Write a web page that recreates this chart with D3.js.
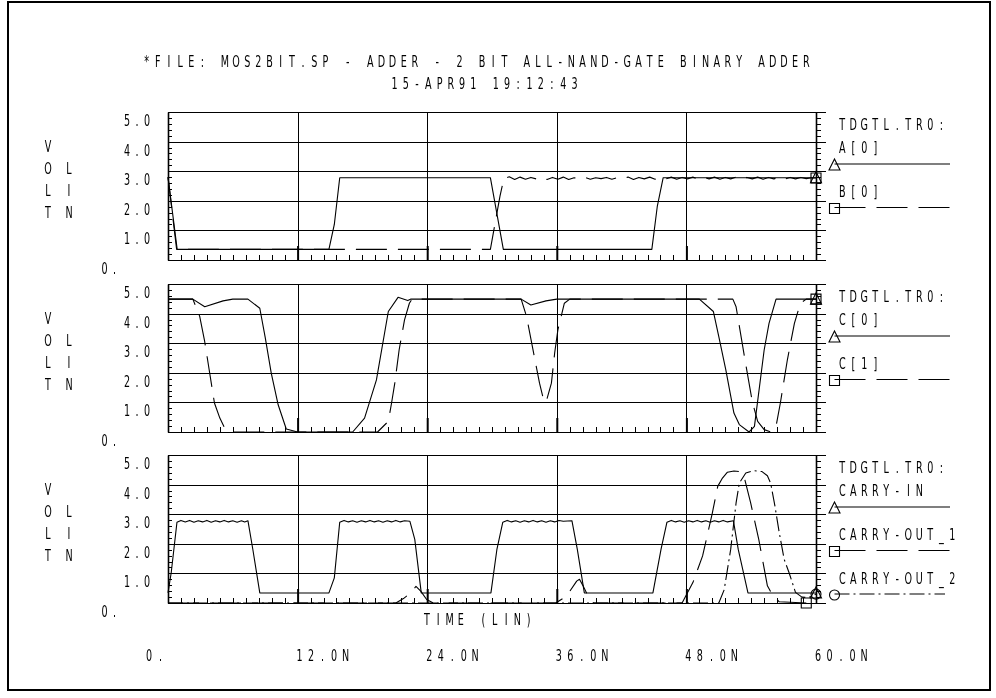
<!DOCTYPE html>
<html>
<head>
<meta charset="utf-8">
<script src="https://cdn.jsdelivr.net/npm/d3@7"></script>
<style>
  html, body { margin: 0; padding: 0; background: #fff; }
  svg { display: block; will-change: transform; }
  text { -webkit-font-smoothing: antialiased; }
</style>
</head>
<body>
<svg id="chart" width="996" height="698"></svg>
<script>
// ---- text content ----
const titleLines = ["*FILE: MOS2BIT.SP - ADDER - 2 BIT ALL-NAND-GATE BINARY ADDER", "15-APR91 19:12:43"];
const xTickValues = [0, 12, 24, 36, 48, 60];
const xTickLabels = ["0.", "12.0N", "24.0N", "36.0N", "48.0N", "60.0N"];
const yTickValues = [5, 4, 3, 2, 1, 0];
const yTickLabels = ["5.0", "4.0", "3.0", "2.0", "1.0", "0."];
const xAxisTitle = "TIME (LIN)";
const yAxisLetters = [["V", ""], ["O", "L"], ["L", "I"], ["T", "N"]];
const legendHeader = "TDGTL.TR0:";
const panelNames = [["A[0]", "B[0]"], ["C[0]", "C[1]"], ["CARRY-IN", "CARRY-OUT_1", "CARRY-OUT_2"]];

// ---- waveforms: [time (ns), volts] ----
const A0 = [[0,2.8],[0.85,0.36],[14.9,0.36],[15.4,1.2],[15.9,2.78],[29.85,2.78],[31.05,0.36],
  [44.8,0.36],[45.3,1.8],[45.85,2.78],[60,2.78]];
const B0 = [[0,2.8],[0.8,0.36],[29.85,0.36],[30.74,2.16],[31.1,2.75],
  [31.6,2.81],[32.1,2.72],[32.6,2.8],[33.1,2.73],[33.6,2.79],[34.1,2.74],[34.6,2.8],[35.1,2.72],
  [35.6,2.79],[36.1,2.73],[36.6,2.8],[37.1,2.72],[37.6,2.78],[38.1,2.74],[38.6,2.79],[39.1,2.73],
  [39.6,2.78],[40.1,2.75],[40.6,2.79],[41.1,2.73],[41.6,2.78],[42.1,2.74],[42.6,2.8],[43.1,2.72],
  [43.6,2.79],[44.1,2.74],[44.6,2.8],[45.1,2.73],[45.6,2.79],[46.1,2.74],[46.6,2.8],[47.1,2.73],
  [47.6,2.79],[48.1,2.74],[48.6,2.8],[49.1,2.73],[49.6,2.79],[50.1,2.74],[50.6,2.8],[51.1,2.73],
  [51.6,2.79],[52.1,2.74],[52.6,2.8],[53.1,2.73],[53.6,2.79],[54.1,2.74],[54.6,2.8],[55.1,2.73],
  [55.6,2.79],[56.1,2.74],[56.6,2.8],[57.1,2.73],[57.6,2.79],[58.1,2.74],[58.6,2.79],[59.1,2.75],
  [59.6,2.78],[60,2.77]];

const C0 = [[0,4.49],[2.3,4.49],[3.4,4.23],[5.1,4.43],[6.0,4.49],[7.4,4.49],[8.5,4.18],[9.0,3.2],
  [9.56,1.99],[10.2,0.92],[10.95,0.1],[12.0,0],[17.1,0],[18.2,0.47],[19.3,1.76],[20.4,4.07],
  [21.3,4.55],[22.2,4.44],[22.5,4.49],[32.7,4.49],[33.6,4.29],[35.0,4.43],[36.0,4.49],[49.2,4.49],
  [50.5,4.07],[51.0,3.22],[51.65,2.1],[52.4,0.64],[52.9,0.25],[53.8,0],[54.3,0.19],[55.2,2.77],
  [55.65,3.67],[56.3,4.49],[60,4.49]];
const C1 = [[0,4.49],[2.3,4.49],[2.94,3.9],[3.4,3.05],[4.3,0.98],[4.8,0.47],[5.25,0.13],[6.0,0],
  [19.4,0],[20.4,0.36],[20.7,0.98],[21.0,1.65],[21.4,2.77],[21.9,3.79],[22.35,4.35],[22.6,4.49],
  [32.7,4.49],[33.2,3.9],[34.1,2.21],[34.4,1.65],[34.7,1.2],[35.0,1.0],[35.5,1.65],[35.8,2.66],
  [36.1,3.45],[36.7,4.35],[37.2,4.49],[52.3,4.49],[52.6,4.23],[53.4,2.49],[54.1,1.03],[54.6,0.36],
  [55.2,0.08],[55.8,0],[56.3,0.19],[56.7,0.98],[57.35,2.44],[58.0,3.67],[58.55,4.35],[59.1,4.49],[60,4.49]];

const CARRY_IN = [[0,0.34],[0.3,1.03],[0.83,2.73],[1.2,2.79],[1.6,2.74],[2.0,2.79],[2.4,2.73],[2.8,2.78],
  [3.2,2.74],[3.6,2.79],[4.0,2.73],[4.4,2.78],[4.8,2.74],[5.2,2.79],[5.6,2.74],[6.0,2.78],[6.4,2.73],
  [6.8,2.78],[7.1,2.74],[7.4,2.78],[7.86,1.8],[8.5,0.34],
  [14.9,0.34],[15.4,0.85],[15.9,2.73],[16.3,2.79],[16.7,2.74],[17.1,2.78],[17.5,2.73],[17.9,2.78],
  [18.3,2.74],[18.7,2.79],[19.1,2.74],[19.5,2.78],[19.9,2.73],[20.3,2.78],[20.7,2.74],[21.1,2.79],
  [21.5,2.74],[21.9,2.78],[22.4,2.76],[22.85,2.15],[23.45,0.34],
  [29.9,0.34],[30.45,1.8],[31.0,2.73],[31.4,2.79],[31.8,2.74],[32.2,2.78],[32.6,2.73],[33.0,2.78],
  [33.4,2.74],[33.8,2.79],[34.2,2.74],[34.6,2.78],[35.0,2.73],[35.4,2.78],[35.8,2.74],[36.2,2.79],
  [36.6,2.76],[37.4,2.78],[37.9,1.81],[38.55,0.34],
  [44.9,0.34],[45.65,1.81],[46.2,2.73],[46.6,2.79],[47.0,2.74],[47.4,2.78],[47.8,2.73],[48.2,2.78],
  [48.6,2.74],[49.0,2.79],[49.4,2.74],[49.8,2.78],[50.2,2.73],[50.6,2.78],[51.0,2.74],[51.4,2.79],
  [51.8,2.74],[52.35,2.78],[52.8,1.81],[53.7,0.34],[60,0.34]];
const CARRY_OUT_1 = [[0,0],[21.1,0],[21.8,0.15],[22.4,0.32],[22.96,0.56],[23.4,0.4],[23.95,0.12],[24.56,0],
  [35.9,0],[36.9,0.23],[37.84,0.74],[38.1,0.8],[38.45,0.57],[38.9,0.23],[39.4,0],
  [47.6,0],[48.6,0.69],[49.5,1.59],[50.4,3.04],[50.9,3.94],[51.3,4.2],[51.8,4.42],[52.4,4.46],
  [52.9,4.44],[53.3,4.33],[53.95,3.38],[54.7,2.15],[55.5,0.58],[56.0,0.25],[56.6,0.04],[59.1,0]];
const CARRY_OUT_2 = [[0,0],[51.0,0],[51.5,0.45],[52.1,1.81],[52.6,3.38],[52.9,4.05],[53.5,4.39],
  [54.2,4.47],[55.0,4.44],[55.5,4.3],[55.8,4.05],[56.2,3.27],[56.6,2.37],[57.05,1.48],[57.5,1.03],
  [58.1,0.36],[58.7,0.2],[59.3,0.18],[60,0.3]];

const panelData = [[A0, B0], [C0, C1], [CARRY_IN, CARRY_OUT_1, CARRY_OUT_2]];

// ---- drawing ----
const svg = d3.select("#chart");
const FONT = "'DejaVu Sans', 'Liberation Sans', sans-serif";
const SX = 0.64;           // horizontal squeeze for the narrow plotter lettering
const INK = "#000";

// fixed-pitch lettering: every character centred on its own cell
function plotText(parent, str, x0, yc, adv, size = 15) {
  const xs = Array.from(str).map((c, i) => (i * adv / SX).toFixed(2)).join(" ");
  return parent.append("text")
    .attr("transform", `translate(${x0},${(yc + size * 0.365).toFixed(2)}) scale(${SX},1)`)
    .attr("x", xs)
    .attr("text-anchor", "middle")
    .attr("font-family", FONT)
    .attr("font-size", size)
    .attr("fill", INK)
    .style("white-space", "pre")
    .text(str);
}

// page frame
svg.append("rect")
  .attr("x", 8).attr("y", 2).attr("width", 982).attr("height", 688)
  .attr("fill", "none").attr("stroke", INK).attr("stroke-width", 2);

// titles
plotText(svg, titleLines[0], 146.6, 62, 11.18);
plotText(svg, titleLines[1], 394.6, 84, 11.24);

const x = d3.scaleLinear().domain([0, 60]).range([168, 816]);
const panelTops = [112, 284, 455];
const panelH = 148;
const gridExt = 10;
const dashStyles = ["none", "31,11", "15,4,2,4"];

const markerPaths = [
  "M0,-6L5.5,5L-5.5,5Z",                         // triangle
  "M-5,-5H5V5H-5Z",                              // square
  "M5,0A5,5 0 1,1 -5,0A5,5 0 1,1 5,0Z"           // circle
];

panelData.forEach((series, p) => {
  const top = panelTops[p], bottom = top + panelH;
  const y = d3.scaleLinear().domain([0, 5]).range([bottom, top]);
  const g = svg.append("g");

  // horizontal grid lines (run a little past the right axis)
  const hGrid = g.append("g").attr("transform", `translate(${x(0)},0)`)
    .call(d3.axisRight(y).tickValues(yTickValues).tickSize(x(60) + gridExt - x(0)).tickFormat(""));
  hGrid.select(".domain").remove();
  hGrid.selectAll("line").attr("stroke", INK).attr("shape-rendering", "crispEdges");
  hGrid.selectAll(".tick").filter(d => d === 0).select("line").attr("stroke-width", 1.6);

  // vertical grid lines
  const vGrid = g.append("g").attr("transform", `translate(0,${bottom})`)
    .call(d3.axisTop(x).tickValues([12, 24, 36, 48]).tickSize(panelH).tickFormat(""));
  vGrid.select(".domain").remove();
  vGrid.selectAll("line").attr("stroke", INK).attr("shape-rendering", "crispEdges");

  // heavier major ticks at the foot of each division
  const major = g.append("g").attr("transform", `translate(0,${bottom})`)
    .call(d3.axisTop(x).tickValues([12, 24, 36, 48]).tickSize(14).tickFormat(""));
  major.select(".domain").remove();
  major.selectAll("line").attr("stroke", INK).attr("stroke-width", 2);

  // minor time ticks along the bottom
  const minorX = g.append("g").attr("transform", `translate(0,${bottom})`)
    .call(d3.axisTop(x).tickValues(d3.range(0, 60.001, 1.2)).tickSize(5).tickFormat(""));
  minorX.select(".domain").remove();
  minorX.selectAll("line").attr("stroke", INK).attr("shape-rendering", "crispEdges");

  // left and right voltage axes with minor ticks
  const yMinor = d3.range(0, 5.001, 0.2);
  const leftAx = g.append("g").attr("transform", `translate(${x(0)},0)`)
    .call(d3.axisRight(y).tickValues(yMinor).tickSize(4).tickSizeOuter(0).tickFormat(""));
  leftAx.select(".domain").attr("stroke", INK).attr("stroke-width", 1.6);
  leftAx.selectAll("line").attr("stroke", INK).attr("shape-rendering", "crispEdges");
  const rightAx = g.append("g").attr("transform", `translate(${x(60)},0)`)
    .call(d3.axisRight(y).tickValues(yMinor).tickSize(5).tickSizeOuter(0).tickFormat(""));
  rightAx.select(".domain").attr("stroke", INK).attr("stroke-width", 1.6);
  rightAx.selectAll("line").attr("stroke", INK).attr("shape-rendering", "crispEdges");

  // voltage tick labels
  yTickValues.forEach((v, i) => {
    const lab = yTickLabels[i];
    const x0 = lab === "0." ? 104.5 : 127;
    plotText(g, lab, x0, y(v) + 8.5, 10);
  });

  // stacked axis caption
  yAxisLetters.forEach((pair, r) => {
    const yc = top + 35 + r * 21.8;
    plotText(g, pair[0], 48, yc, 10);
    if (pair[1]) plotText(g, pair[1], 69, yc, 10);
  });

  // waveforms
  const line = d3.line().x(d => x(d[0])).y(d => y(d[1]));
  series.forEach((data, s) => {
    g.append("path")
      .attr("d", line(data))
      .attr("fill", "none")
      .attr("stroke", INK)
      .attr("stroke-width", 1.1)
      .attr("stroke-linejoin", "round")
      .attr("stroke-dasharray", dashStyles[s]);
    const last = data[data.length - 1];
    g.append("path")
      .attr("d", markerPaths[s])
      .attr("transform", `translate(${x(last[0])},${y(last[1])})`)
      .attr("fill", "none").attr("stroke", INK).attr("stroke-width", 1.1);
  });

  // legend
  const lx = 834.5;
  plotText(g, legendHeader, 842.3, top + 13, 11);
  panelNames[p].forEach((name, s) => {
    plotText(g, name, 842.3, top + 35.5 + s * 43.8, 11);
    const ly = top + 52 + s * 43.5;
    g.append("line")
      .attr("x1", lx).attr("x2", s === 2 ? 945 : 950)
      .attr("y1", ly).attr("y2", ly)
      .attr("stroke", INK).attr("stroke-width", 1.1)
      .attr("stroke-dasharray", dashStyles[s]);
    g.append("path")
      .attr("d", markerPaths[s])
      .attr("transform", `translate(${lx},${ly + 1})`)
      .attr("fill", "none").attr("stroke", INK).attr("stroke-width", 1.1);
  });
});

// time axis caption and labels
plotText(svg, xAxisTitle, 427, 620, 11.3);
xTickValues.forEach((t, i) => {
  const x0 = t === 0 ? 149 : x(t) + 2;
  plotText(svg, xTickLabels[i], x0, 656, 11.5);
});
</script>
</body>
</html>
